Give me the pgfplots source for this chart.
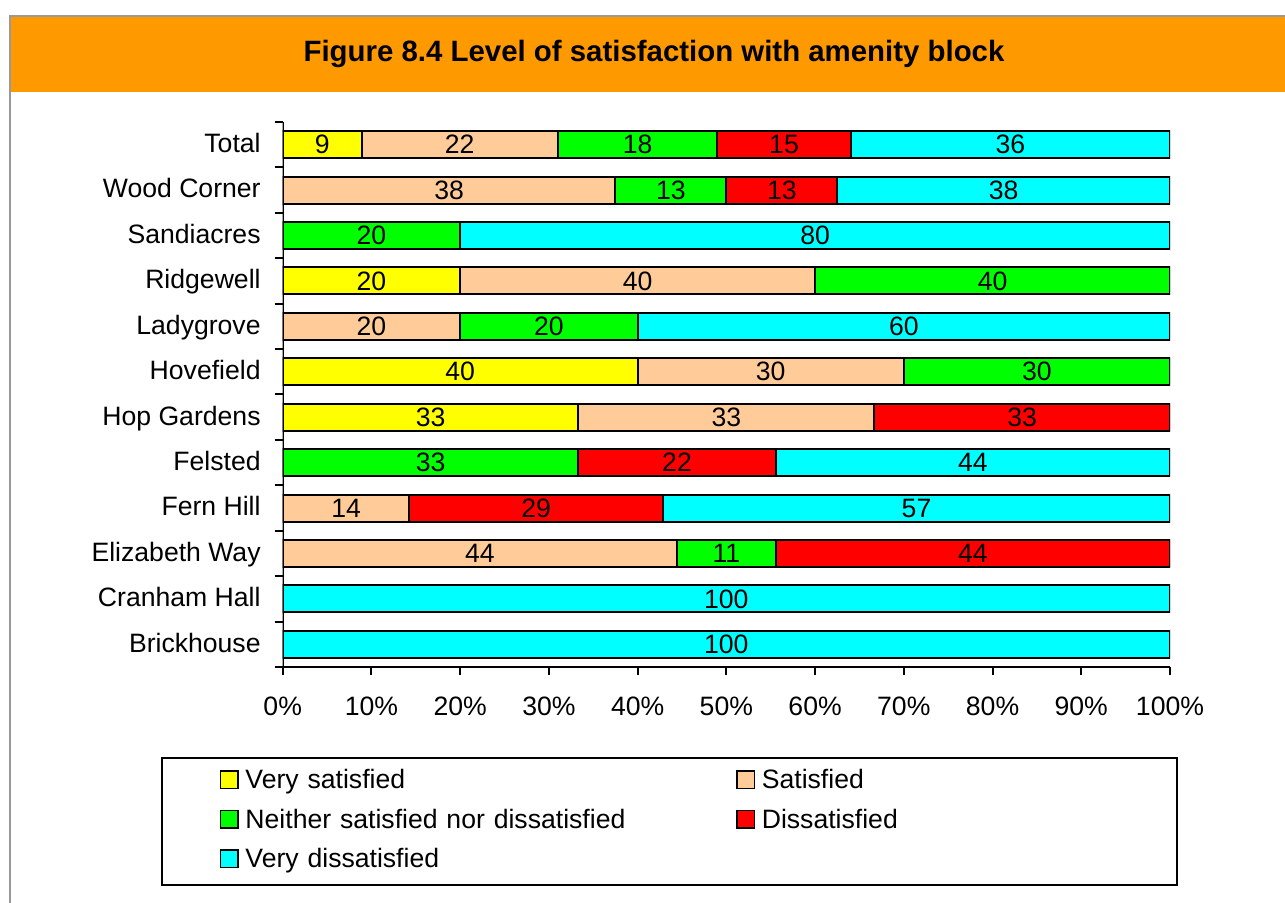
\documentclass[border=0pt]{standalone}
\usepackage{pgfplots}
\pgfplotsset{compat=1.18}
\usepackage{pgfplotstable}
\usepackage{fontspec}
\setmainfont{Liberation Sans}
\definecolor{cVS}{HTML}{FFFF00}
\definecolor{cS}{HTML}{FFCC99}
\definecolor{cN}{HTML}{00FF00}
\definecolor{cD}{HTML}{FF0000}
\definecolor{cVD}{HTML}{00FFFF}
\definecolor{band}{HTML}{FF9900}
\definecolor{framec}{HTML}{999999}

% idx: 0 = Brickhouse ... 11 = Total
\pgfplotstableread{
idx vs s n d vd
0 0 0 0 0 100
1 0 0 0 0 100
2 0 44.44 11.11 44.45 0
3 0 14.29 0 28.57 57.14
4 0 0 33.33 22.22 44.45
5 33.33 33.33 0 33.34 0
6 40 30 30 0 0
7 0 20 20 0 60
8 20 40 40 0 0
9 0 0 20 0 80
10 0 37.5 12.5 12.5 37.5
11 8.9 22.1 18.0 15.0 36.0
}\datatable

\pgfplotsset{
  seg/.style={
    visualization depends on={\thisrow{#1} \as \segv},
    nodes near coords={\ifdim\segv pt>0.01pt\pgfmathprintnumber[fixed,precision=0]{\segv}\fi},
    every node near coord/.style={anchor=center, inner sep=0pt, text=black},
    draw=black, line width=1bp,
    legend image code/.code={\draw[##1, line width=0.75bp] (0bp,0bp) rectangle (8.75bp,8.75bp); \path[draw=none,fill=none] (12.4bp,0bp) circle (0pt);},
  }
}

\begin{document}
\fontsize{13.3bp}{16bp}\selectfont
\begin{tikzpicture}
\path[use as bounding box] (0,0) rectangle (642.5bp,451.5bp);
\draw[framec, line width=1bp] (5bp,-20bp) rectangle (700bp,443.5bp);
\fill[band] (5.5bp,405.5bp) rectangle (700bp,443bp);
\node[anchor=base, font=\fontsize{14.7bp}{17bp}\selectfont\bfseries, inner sep=0pt] at (327bp,420.5bp) {Figure 8.4 Level of satisfaction with amenity block};
\draw[black, line width=0.75bp] (81bp,9bp) rectangle (588.5bp,72.5bp);
\begin{axis}[
  at={(141.35bp,118bp)}, anchor=south west,
  scale only axis, width=443.65bp, height=272.5bp,
  xbar stacked, bar width=13.5bp,
  xmin=0, xmax=100, ymin=-0.5, ymax=11.5,
  /pgf/number format/assume math mode=true,
  axis line style={draw=none},
  xtick={0,10,...,100},
  xticklabel={\pgfmathprintnumber{\tick}\%},
  xticklabel style={anchor=base, inner sep=0pt, yshift=-20bp},
  ytick={-0.5,0.5,...,11.5},
  yticklabels={},
  extra y ticks={0,1,...,11},
  extra y tick labels={Brickhouse,Cranham Hall,Elizabeth Way,Fern Hill,Felsted,Hop Gardens,Hovefield,Ladygrove,Ridgewell,Sandiacres,Wood Corner,Total},
  extra y tick style={major tick length=0pt, yticklabel style={anchor=base east, inner sep=0pt, xshift=-10.85bp, yshift=-3.9bp}},
  xtick pos=bottom, ytick pos=left, tick align=outside,
  major tick length=4bp,
  tick style={black, line width=1bp},
  legend columns=2,
  legend style={draw=none, fill=none, at={(-0.0712,-0.1859)}, anchor=north west,
    inner sep=0pt, row sep=6.75bp, column sep=0pt,
    nodes={inner sep=0pt, text width=245.4bp, align=left, text height=10bp, text depth=3bp, anchor=base west}},
  legend cell align=left,
]
\addplot[seg=vs, fill=cVS] table[x=vs, y=idx] {\datatable};
\addplot[seg=s, fill=cS] table[x=s, y=idx] {\datatable};
\addplot[seg=n, fill=cN] table[x=n, y=idx] {\datatable};
\addplot[seg=d, fill=cD] table[x=d, y=idx] {\datatable};
\addplot[seg=vd, fill=cVD] table[x=vd, y=idx] {\datatable};
\legend{Very satisfied, Satisfied, Neither satisfied nor dissatisfied, Dissatisfied, Very dissatisfied}
\draw[black, line width=1bp] (rel axis cs:0,1) -- (rel axis cs:0,0) -- (rel axis cs:1,0);
\end{axis}
\end{tikzpicture}
\end{document}
